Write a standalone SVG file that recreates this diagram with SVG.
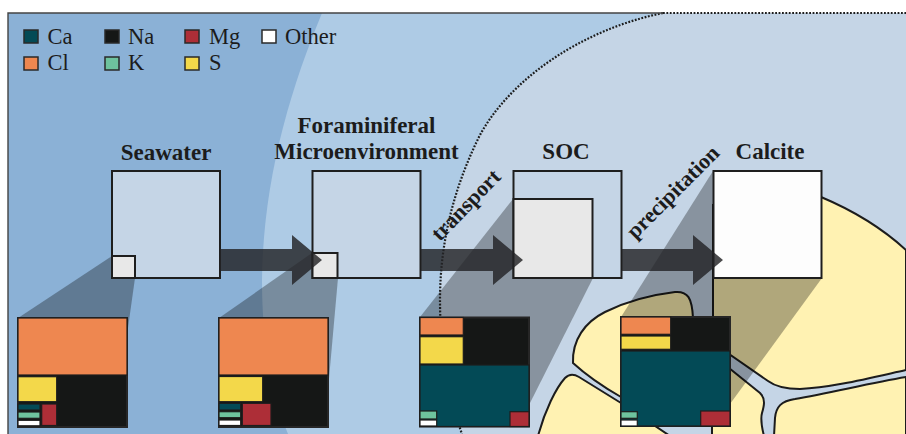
<svg xmlns="http://www.w3.org/2000/svg" width="906" height="434" viewBox="0 0 906 434">
  <defs>
    <style>
      .title { font-family: "Liberation Serif", "Times New Roman", serif; font-weight: bold; font-size: 23px; fill: #1c1c1c; }
      .proc { font-family: "Liberation Serif", "Times New Roman", serif; font-weight: bold; font-size: 22px; fill: #1c1c1c; }
      .leg { font-family: "Liberation Serif", "Times New Roman", serif; font-size: 22.5px; fill: #1c1c1c; }
      .box { fill: #c5d5e6; stroke: #1e1e1e; stroke-width: 2; }
      .sub { fill: #e8e8e8; stroke: #1e1e1e; stroke-width: 2; }
      .shadow { fill: #000; opacity: 0.31; }
      .arrow { fill: #232326; opacity: 0.82; }
      .cell { stroke: #1d1d1d; stroke-width: 1.2; }
      .chart { fill: #151716; stroke: #262626; stroke-width: 2; }
      .chamber { fill: #fff2b2; stroke: #1c1c1c; stroke-width: 2; }
      .ca { fill: #034a56; } .na { fill: #151716; } .mg { fill: #ad2e37; } .ot { fill: #ffffff; }
      .cl { fill: #ee8750; } .k { fill: #6ec39e; } .s { fill: #f3d84a; }
      .sw { stroke: #2a2a2a; stroke-width: 1.5; }
    </style>
  </defs>

  <!-- page -->
  <rect x="0" y="0" width="906" height="434" fill="#ffffff"/>

  <!-- background zones -->
  <g id="background">
    <rect x="8" y="13" width="898" height="421" fill="#8bb1d6"/>
    <path d="M 322,13 C 290,90 263,180 262,280 C 262,340 270,390 288,434 L 906,434 L 906,13 Z" fill="#aecbe5"/>
    <path d="M 663,13 C 580,30 510,80 480,135 C 455,185 440,240 440,300 C 440,350 448,395 462,434 L 906,434 L 906,13 Z" fill="#c5d5e6"/>
  </g>

  <!-- chambers of the test -->
  <g id="chambers">
    <path class="chamber" d="M 713,354 L 713,205 L 821,197 C 852,210 882,228 906,250 L 906,370 C 870,378 830,388 800,389 C 785,389 776,387 768,381 L 729,354 Z"/>
    <path class="chamber" d="M 573,363 C 572,340 585,322 605,312 C 625,302 650,295 675,292 C 688,291 692,298 693,318 L 693,370 L 640,410 L 621,397 C 600,385 585,374 573,363 Z"/>
    <path class="chamber" d="M 538,436 C 545,410 556,388 565,378 C 569,374 574,374 579,377 L 621,403 L 670,436 Z"/>
    <path class="chamber" d="M 729,368 L 760,393 C 766,399 764,406 762,413 C 760,420 762,428 764,436 L 712,436 L 712,368 Z"/>
    <path class="chamber" d="M 906,377 C 870,383 830,393 795,399 C 781,401 776,407 775,418 L 774,436 L 906,436 Z"/>
  </g>

  <!-- projections from each box down to its composition chart -->
  <g id="projections">
    <polygon class="shadow" points="112,256 135,278 127,335 18,318"/>
    <polygon class="shadow" points="312,253 338,278 328,390 219,318"/>
    <polygon class="shadow" points="513,199 593,278 529,405 420,317"/>
    <polygon class="shadow" points="713,171 822,278 730,404 621,317"/>
  </g>

  <!-- boundary of the enclosed space and frame -->
  <g id="frame" fill="none">
    <path d="M 663,13 C 580,30 510,80 480,135 C 455,185 440,240 440,300 C 440,350 448,395 462,434" stroke="#1e1e1e" stroke-width="2.2" stroke-dasharray="1.8 1.6"/>
    <path d="M 8,434 L 8,13 L 663,13" stroke="#444" stroke-width="1.4"/>
    <path d="M 663,13 L 906,13" stroke="#1e1e1e" stroke-width="2.2" stroke-dasharray="1.8 1.6"/>
  </g>

  <!-- legend -->
  <g id="legend">
    <rect class="ca sw" x="24" y="30" width="14" height="13"/>
    <text class="leg" x="47.5" y="43.5">Ca</text>
    <rect class="na sw" x="105" y="30" width="14" height="13"/>
    <text class="leg" x="128" y="43.5">Na</text>
    <rect class="mg sw" x="185" y="30" width="14" height="13"/>
    <text class="leg" x="209" y="43.5">Mg</text>
    <rect class="ot sw" x="262" y="30" width="14" height="13"/>
    <text class="leg" x="285" y="43.5">Other</text>
    <rect class="cl sw" x="24" y="57" width="14" height="13"/>
    <text class="leg" x="47.5" y="70">Cl</text>
    <rect class="k sw" x="105" y="57" width="14" height="13"/>
    <text class="leg" x="128" y="70">K</text>
    <rect class="s sw" x="185" y="57" width="14" height="13"/>
    <text class="leg" x="209" y="70">S</text>
  </g>

  <!-- nodes -->
  <g id="seawater">
    <text class="title" x="166" y="159.5" text-anchor="middle">Seawater</text>
    <rect class="box" x="112" y="171" width="108" height="107"/>
    <rect class="sub" x="112" y="256" width="23" height="22"/>
  </g>

  <g id="microenvironment">
    <text class="title" x="366.5" y="132.5" text-anchor="middle">Foraminiferal</text>
    <text class="title" x="366.5" y="158.5" text-anchor="middle">Microenvironment</text>
    <rect class="box" x="312.5" y="171" width="108" height="107"/>
    <rect class="sub" x="312.5" y="253" width="25" height="25"/>
  </g>

  <g id="soc">
    <text class="title" x="566" y="158.5" text-anchor="middle">SOC</text>
    <rect class="box" x="513.5" y="171" width="108" height="107"/>
    <rect class="sub" x="513.5" y="199" width="79" height="79"/>
  </g>

  <g id="calcite">
    <text class="title" x="770" y="158.5" text-anchor="middle">Calcite</text>
    <rect class="box" x="713.5" y="171" width="108" height="107" style="fill:#fdfdfd"/>
  </g>

  <!-- connectors -->
  <g id="connectors">
    <polygon class="arrow" points="220,249 292,249 292,235 322,260 292,285 292,271 220,271"/>
    <polygon class="arrow" points="421,249 493,249 493,235 523,260 493,285 493,271 421,271"/>
    <polygon class="arrow" points="622,249 693,249 693,235 723,260 693,285 693,271 622,271"/>
    <text class="proc" transform="translate(471,210) rotate(-46)" text-anchor="middle">transport</text>
    <text class="proc" transform="translate(678,197) rotate(-45)" text-anchor="middle">precipitation</text>
  </g>

  <!-- composition charts -->
  <g id="chart-seawater" transform="translate(18,318)">
    <rect class="chart" x="0" y="0" width="109" height="109"/>
    <rect class="cell cl" x="0" y="0" width="109" height="57"/>
    <rect class="cell s" x="0" y="58.7" width="38.7" height="25"/>
    <rect class="cell ca" x="0" y="86" width="22" height="6"/>
    <rect class="cell k" x="0" y="94" width="22" height="6.3"/>
    <rect class="cell ot" x="0" y="102.3" width="22" height="5.5"/>
    <rect class="cell mg" x="23.7" y="86" width="15" height="21.5"/>
  </g>

  <g id="chart-microenvironment" transform="translate(219,318)">
    <rect class="chart" x="0" y="0" width="109" height="109"/>
    <rect class="cell cl" x="0" y="0" width="109" height="57"/>
    <rect class="cell s" x="0" y="58.5" width="43.7" height="25.2"/>
    <rect class="cell ca" x="0" y="85.3" width="21.7" height="6.7"/>
    <rect class="cell k" x="0" y="93.7" width="21.7" height="6"/>
    <rect class="cell ot" x="0" y="102" width="21.7" height="5.5"/>
    <rect class="cell mg" x="23.3" y="85.3" width="28.7" height="22.2"/>
  </g>

  <g id="chart-soc" transform="translate(420,317.5)">
    <rect class="chart" x="0" y="0" width="109" height="109"/>
    <rect class="cell cl" x="0" y="0" width="43.3" height="17.5"/>
    <rect class="cell s" x="0" y="19.2" width="43.3" height="27.3"/>
    <rect class="cell ca" x="0" y="47.5" width="109" height="61.5"/>
    <rect class="cell k" x="0" y="93.5" width="16.7" height="8"/>
    <rect class="cell ot" x="0" y="102.5" width="16.7" height="6"/>
    <rect class="cell mg" x="90" y="94.2" width="19" height="14.8"/>
  </g>

  <g id="chart-calcite" transform="translate(621,317)">
    <rect class="chart" x="0" y="0" width="109" height="109"/>
    <rect class="cell cl" x="0" y="0" width="49.7" height="17.3"/>
    <rect class="cell s" x="0" y="19" width="49.7" height="13.3"/>
    <rect class="cell ca" x="0" y="34" width="109" height="75"/>
    <rect class="cell k" x="0" y="94.7" width="16.3" height="6.6"/>
    <rect class="cell ot" x="0" y="103" width="16.3" height="6"/>
    <rect class="cell mg" x="79.7" y="94" width="29.3" height="15"/>
  </g>
</svg>
